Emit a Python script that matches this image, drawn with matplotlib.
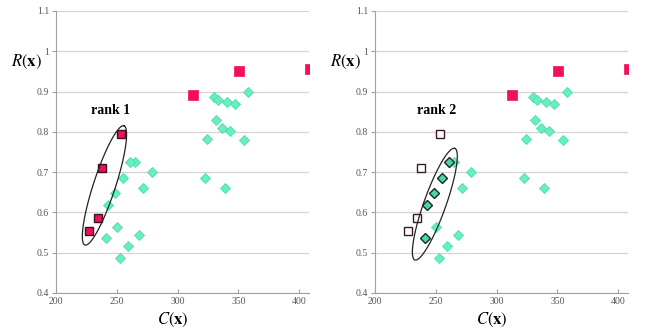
import matplotlib
matplotlib.use("Agg")
import matplotlib.pyplot as plt
import numpy as np
from matplotlib.transforms import blended_transform_factory

plt.rcParams['font.family'] = ['Liberation Serif', 'DejaVu Serif']
plt.rcParams['mathtext.fontset'] = 'stix'

# rank-1 front (red squares)
rank1_c = [227.4, 234.3, 237.6, 253.4]
rank1_r = [0.554, 0.585, 0.711, 0.795]

# other red squares (not in rank 1 ellipse)
red_c = [312.8, 350.2, 409.0]
red_r = [0.892, 0.950, 0.955]

# rank-2 diamonds
rank2_c = [260.8, 255.3, 248.5, 243.0, 241.3]
rank2_r = [0.725, 0.686, 0.648, 0.618, 0.536]

# remaining green diamonds
green_c = [264.7, 278.7, 271.8, 250.1, 268.5, 259.2, 252.6,
           329.6, 333.4, 340.5, 347.4, 357.6, 331.3, 336.2, 343.0,
           324.1, 354.3, 322.7, 338.7]
green_r = [0.725, 0.700, 0.661, 0.565, 0.545, 0.517, 0.488,
           0.886, 0.880, 0.873, 0.869, 0.898, 0.829, 0.809, 0.802,
           0.782, 0.781, 0.686, 0.661]

x_ticks = [200, 250, 300, 350, 400]
y_ticks = [0.4, 0.5, 0.6, 0.7, 0.8, 0.9, 1.0, 1.1]
y_labels = ['0.4', '0.5', '0.6', '0.7', '0.8', '0.9', '1', '1.1']

RED = '#f0105a'
GREEN = '#66f0bc'
GREEN_EDGE = '#4fdca8'
SQ = 6.2   # square marker size (pt)
DM = 5.6   # diamond marker size (pt)


def style_axes(ax):
    ax.set_xlim(200, 408)
    ax.set_ylim(0.4, 1.1)
    ax.set_xticks(x_ticks)
    ax.set_xticklabels([str(t) for t in x_ticks])
    ax.set_yticks(y_ticks)
    ax.set_yticklabels(y_labels)
    ax.grid(axis='y', color='#d4d4d4', linewidth=0.9)
    ax.set_axisbelow(True)
    for s in ['top', 'right']:
        ax.spines[s].set_visible(False)
    for s in ['left', 'bottom']:
        ax.spines[s].set_color('#a0a0a0')
        ax.spines[s].set_linewidth(0.8)
    ax.tick_params(axis='x', direction='in', length=3, color='#a0a0a0',
                   labelsize=7, labelcolor='#555555', pad=3)
    ax.tick_params(axis='y', direction='out', length=3, color='#a0a0a0',
                   labelsize=7, labelcolor='#555555', pad=2)
    tr = blended_transform_factory(ax.transAxes, ax.transData)
    ax.text(-0.115, 0.973, r'$R(\mathbf{x})$', transform=tr,
            ha='center', va='center', fontsize=12)
    tr2 = blended_transform_factory(ax.transData, ax.transAxes)
    ax.text(296, -0.096, r'$C(\mathbf{x})$', transform=tr2,
            ha='center', va='center', fontsize=12)


def draw_ellipse(ax, top, bottom, half_minor_px):
    # build the ellipse in display space so the outline looks right on screen
    p1 = ax.transData.transform(top)
    p2 = ax.transData.transform(bottom)
    c = (p1 + p2) / 2
    a = (p1 - p2) / 2
    u = a / np.linalg.norm(a)
    b = np.array([u[1], -u[0]]) * half_minor_px
    t = np.linspace(0, 2 * np.pi, 200)
    pts = c + np.outer(np.cos(t), a) + np.outer(np.sin(t), b)
    d = ax.transData.inverted().transform(pts)
    ax.plot(d[:, 0], d[:, 1], color='#222222', linewidth=0.9, zorder=5)


fig = plt.figure(figsize=(6.52, 3.31), dpi=100)
ax1 = fig.add_axes([56 / 652, 38 / 331, 253 / 652, 282 / 331])
ax2 = fig.add_axes([375 / 652, 38 / 331, 253 / 652, 282 / 331])

for ax in (ax1, ax2):
    style_axes(ax)
    ax.plot(green_c, green_r, 'D', ms=DM, mfc=GREEN, mec=GREEN_EDGE, mew=0.6,
            ls='none', zorder=3)
    ax.scatter(red_c, red_r, marker='s', s=(SQ + 0.5) ** 2, c=RED,
               edgecolors=RED, linewidths=0.5, zorder=3, clip_on=True)

# left: rank 1 highlighted
ax1.plot(rank2_c, rank2_r, 'D', ms=DM, mfc=GREEN, mec=GREEN_EDGE, mew=0.6,
         ls='none', zorder=3)
ax1.plot(rank1_c, rank1_r, 's', ms=SQ, mfc=RED, mec='#3a1020', mew=1.0,
         ls='none', zorder=4)
draw_ellipse(ax1, (255.9, 0.815), (223.8, 0.519), 11)
ax1.text(244.9, 0.852, 'rank 1', ha='center', va='center', fontsize=10,
         fontweight='bold')

# right: rank 2 highlighted, rank 1 shown as open squares
ax2.plot(rank1_c, rank1_r, 's', ms=SQ, mfc='white', mec='#3a1a28', mew=1.0,
         ls='none', zorder=4)
ax2.plot(rank2_c, rank2_r, 'D', ms=DM, mfc='#4cd6a2', mec='#1a2a22', mew=1.0,
         ls='none', zorder=4)
draw_ellipse(ax2, (265.6, 0.759), (232.8, 0.482), 11)
ax2.text(250.4, 0.852, 'rank 2', ha='center', va='center', fontsize=10,
         fontweight='bold')

fig.savefig('out.png', dpi=100)
